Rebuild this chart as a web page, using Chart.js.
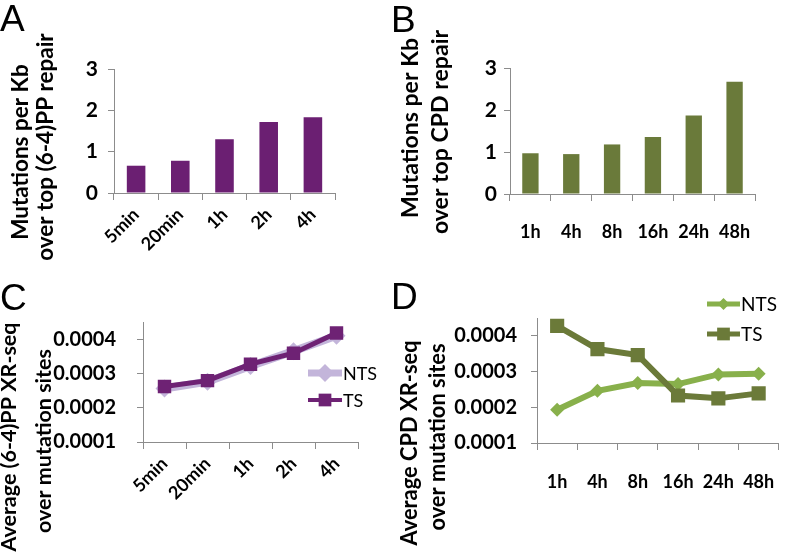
<!DOCTYPE html>
<html><head><meta charset="utf-8">
<script src="https://cdn.jsdelivr.net/npm/chart.js@4.4.0/dist/chart.umd.min.js"></script>
<style>
html,body{margin:0;padding:0;background:#fff;}
#wrap{position:relative;width:796px;height:555px;overflow:hidden;background:#fff;}
canvas{position:absolute;}
.letter{position:absolute;font-family:"Liberation Sans",Arial,sans-serif;font-size:37px;line-height:37px;color:#000;}
</style></head><body>
<div id="wrap">
  <canvas id="cA" width="400" height="280" style="left:0;top:0"></canvas>
  <canvas id="cB" width="396" height="280" style="left:400px;top:0"></canvas>
  <canvas id="cC" width="400" height="275" style="left:0;top:280px"></canvas>
  <canvas id="cD" width="396" height="275" style="left:400px;top:280px"></canvas>
  <div class="letter" style="left:0px;top:0px">A</div>
  <div class="letter" style="left:391px;top:1px">B</div>
  <div class="letter" style="left:0px;top:279px">C</div>
  <div class="letter" style="left:391px;top:278px">D</div>
</div>
<script>
// ---- data ----
const catsA = ['5min', '20min', '1h', '2h', '4h'];
const mutA = [0.66, 0.78, 1.30, 1.72, 1.83];

const catsB = ['1h', '4h', '8h', '16h', '24h', '48h'];
const mutB = [0.97, 0.95, 1.18, 1.36, 1.87, 2.67];

const catsC = ['5min', '20min', '1h', '2h', '4h'];
const ntsC = [0.000256, 0.000276, 0.000322, 0.000365, 0.000410];
const tsC = [0.000262, 0.000279, 0.000327, 0.000359, 0.000418];

const catsD = ['1h', '4h', '8h', '16h', '24h', '48h'];
const ntsD = [0.000193, 0.000246, 0.000268, 0.000265, 0.000292, 0.000294];
const tsD = [0.000428, 0.000363, 0.000346, 0.000233, 0.000225, 0.000239];

const seriesNames = ['NTS', 'TS'];

const titleA = ['Mutations per Kb', 'over top (6-4)PP repair'];
const titleB = ['Mutations per Kb', 'over top CPD repair'];
const titleC = ['Average (6-4)PP XR-seq', 'over mutation sites'];
const titleD = ['Average CPD XR-seq', 'over mutation sites'];

// ---- styles ----
const AX = '#8c8c8c';
const FONT = 'Lato';

const insideLegend = {
  id: 'insideLegend',
  afterDatasetsDraw(chart, args, o) {
    if (!o || !o.show) return;
    const ctx = chart.ctx;
    chart.data.datasets.forEach((ds, i) => {
      const y = o.top + i * o.gap;
      const cx = o.left + o.len / 2;
      ctx.save();
      ctx.strokeStyle = ds.borderColor;
      ctx.lineWidth = ds.legendLine || ds.borderWidth;
      ctx.beginPath();
      ctx.moveTo(o.left, y);
      ctx.lineTo(o.left + o.len, y);
      ctx.stroke();
      ctx.fillStyle = ds.backgroundColor;
      const r = ds.legendRadius || ds.pointRadius;
      ctx.beginPath();
      if (ds.pointStyle === 'rectRot') {
        ctx.moveTo(cx, y - r); ctx.lineTo(cx + r, y); ctx.lineTo(cx, y + r); ctx.lineTo(cx - r, y);
        ctx.closePath();
      } else {
        const s = r * Math.SQRT1_2;
        ctx.rect(cx - s, y - s, 2 * s, 2 * s);
      }
      ctx.fill();
      ctx.fillStyle = '#000';
      ctx.font = o.font;
      ctx.textBaseline = 'middle';
      ctx.textAlign = 'left';
      ctx.fillText(ds.label, o.left + o.len + 1, y + 1);
      ctx.restore();
    });
  }
};

// rotated two-line axis title, font size fitted to the wanted line lengths
const sideTitle = {
  id: 'sideTitle',
  afterDraw(chart, args, o) {
    if (!o || !o.lines) return;
    const ctx = chart.ctx;
    ctx.save();
    const sizes = o.lines.map(l => {
      ctx.font = `bold 20px ${FONT}`;
      return 20 * l.len / ctx.measureText(l.text).width;
    });
    const size = sizes.reduce((a, b) => a + b, 0) / sizes.length;
    ctx.font = `bold ${size.toFixed(2)}px ${FONT}`;
    ctx.fillStyle = '#000';
    o.lines.forEach(l => {
      ctx.save();
      ctx.translate(l.x, l.cy);
      ctx.rotate(-Math.PI / 2);
      ctx.textAlign = 'center';
      ctx.textBaseline = 'alphabetic';
      ctx.fillText(l.text, 0, 0);
      ctx.restore();
    });
    ctx.restore();
  }
};
Chart.register(insideLegend, sideTitle);

function stepFilter(step) {
  return s => {
    s.ticks = s.ticks.filter(t => Math.abs(t.value / step - Math.round(t.value / step)) < 1e-6);
  };
}

function makeChart(id, cfg) {
  const o = cfg.geo;
  return new Chart(document.getElementById(id), {
    type: cfg.type,
    data: { labels: cfg.labels, datasets: cfg.datasets },
    options: {
      responsive: false,
      animation: false,
      events: [],
      layout: { padding: { left: 0, top: o.top, right: o.right, bottom: 0 } },
      plugins: {
        legend: { display: false },
        tooltip: { enabled: false },
        insideLegend: cfg.legend || { show: false },
        sideTitle: cfg.title
      },
      scales: {
        x: {
          offset: true,
          grid: { display: true, drawOnChartArea: false, drawTicks: true, tickLength: 7, color: AX, offset: true, lineWidth: 1 },
          border: { display: true, color: AX, width: 1 },
          ticks: {
            color: '#000',
            font: { family: FONT, weight: 'bold', size: cfg.xFont },
            maxRotation: cfg.rot, minRotation: cfg.rot,
            padding: cfg.xPad,
            autoSkip: false
          },
          afterFit: s => { s.height = o.xh; }
        },
        y: {
          min: cfg.ymin, max: cfg.ymax,
          bounds: 'data',
          grid: { display: true, drawOnChartArea: false, drawTicks: true, tickLength: 6, color: AX, lineWidth: 1 },
          border: { display: true, color: AX, width: 1 },
          ticks: {
            stepSize: cfg.step,
            includeBounds: false,
            autoSkip: false,
            color: '#000',
            font: { family: FONT, weight: 'bold', size: cfg.yFont },
            padding: cfg.yPad,
            callback: cfg.fmt
          },
          afterBuildTicks: stepFilter(cfg.step),
          afterFit: s => { s.width = o.yw; }
        }
      }
    }
  });
}

// A
makeChart('cA', {
  type: 'bar', labels: catsA,
  datasets: [{ data: mutA, backgroundColor: '#6B1F72', categoryPercentage: 1, barPercentage: 0.42 }],
  geo: { top: 69, right: 65, yw: 114, xh: 87 },
  ymin: 0, ymax: 3, step: 1, fmt: v => String(Math.round(v)),
  xFont: 18, yFont: 21, rot: 45, xPad: 4, yPad: 10,
  title: { lines: [
    { text: titleA[0], x: 28, cy: 152, len: 158 },
    { text: titleA[1], x: 53, cy: 147, len: 250 }
  ] }
});

// B
makeChart('cB', {
  type: 'bar', labels: catsB,
  datasets: [{ data: mutB, backgroundColor: '#6A7A3A', categoryPercentage: 1, barPercentage: 0.40 }],
  geo: { top: 68, right: 41, yw: 110, xh: 86 },
  ymin: 0, ymax: 3, step: 1, fmt: v => String(Math.round(v)),
  xFont: 18, yFont: 21, rot: 0, xPad: 20, yPad: 7,
  title: { lines: [
    { text: titleB[0], x: 18, cy: 128, len: 183 },
    { text: titleB[1], x: 48, cy: 132, len: 201 }
  ] }
});

// C
makeChart('cC', {
  type: 'line', labels: catsC,
  datasets: [
    { label: seriesNames[0], data: ntsC, borderColor: '#C3B5DA', backgroundColor: '#C3B5DA', borderWidth: 8,
      pointStyle: 'rectRot', pointRadius: 9, pointBorderWidth: 0, order: 2, legendLine: 7, legendRadius: 9 },
    { label: seriesNames[1], data: tsC, borderColor: '#6E2274', backgroundColor: '#6E2274', borderWidth: 5,
      pointStyle: 'rect', pointRadius: 9.5, pointBorderWidth: 0, order: 1, legendLine: 4, legendRadius: 9 }
  ],
  geo: { top: 42, right: 42, yw: 143, xh: 113 },
  ymin: 0.0001, ymax: 0.00045, step: 0.0001, fmt: v => v.toFixed(4),
  xFont: 18, yFont: 20, rot: 45, xPad: 4, yPad: 21,
  legend: { show: true, left: 308, top: 93, gap: 27, len: 34, font: '18px Lato' },
  title: { lines: [
    { text: titleC[0], x: 16, cy: 157, len: 230 },
    { text: titleC[1], x: 51, cy: 161, len: 183 }
  ] }
});

// D
makeChart('cD', {
  type: 'line', labels: catsD,
  datasets: [
    { label: seriesNames[0], data: ntsD, borderColor: '#88B04B', backgroundColor: '#88B04B', borderWidth: 6,
      pointStyle: 'rectRot', pointRadius: 7, pointBorderWidth: 0, order: 2, legendLine: 5, legendRadius: 6 },
    { label: seriesNames[1], data: tsD, borderColor: '#6B7A39', backgroundColor: '#6B7A39', borderWidth: 6,
      pointStyle: 'rect', pointRadius: 10, pointBorderWidth: 0, order: 1, legendLine: 5, legendRadius: 9 }
  ],
  geo: { top: 38, right: 4, yw: 137, xh: 112 },
  ymin: 0.0001, ymax: 0.00045, step: 0.0001, fmt: v => v.toFixed(4),
  xFont: 18, yFont: 20, rot: 0, xPad: 21, yPad: 14,
  legend: { show: true, left: 307, top: 24, gap: 30, len: 33, font: '19px Lato' },
  title: { lines: [
    { text: titleD[0], x: 17, cy: 163, len: 212 },
    { text: titleD[1], x: 45, cy: 157, len: 181 }
  ] }
});
</script>
</body></html>
